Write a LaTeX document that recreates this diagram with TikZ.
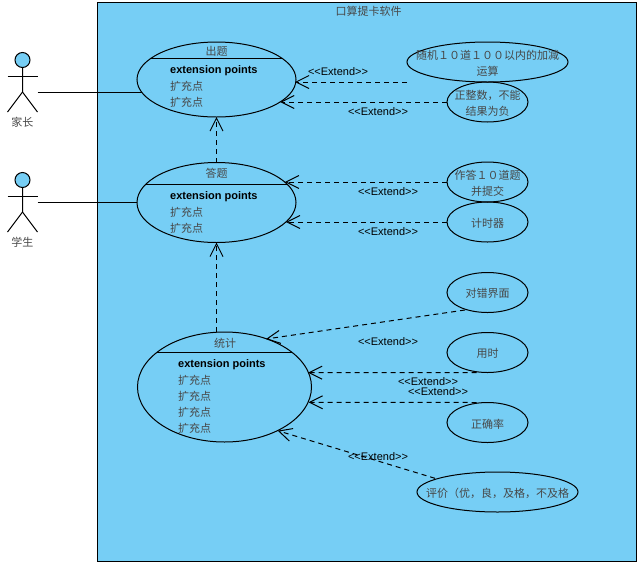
\documentclass[tikz,border=0pt]{standalone}
\usepackage{xcolor}
\usepackage{fontspec}
\setmainfont{Liberation Sans}
\newfontfamily\cjk{Noto Sans CJK SC}
\usepackage{tikz}
\usetikzlibrary{positioning,arrows.meta,shapes.geometric}
\definecolor{sysblue}{RGB}{118,206,245}
\colorlet{cjkgrey}{black!72}

\newcommand{\umlactor}[2]{
  \node[actorbox] (#1) at (#2) {};
  \draw[plainline, fill=sysblue] (#1.north) ++(0,8) circle (7.5);
  \draw[plainline] (#1.north) ++(0,15.5) -- (#1.center) -- ++(0,10) -- (#1.south west);
  \draw[plainline] (#1.center) ++(0,10) -- (#1.south east);
  \draw[plainline] (#1.west) ++(0,-6) -- ([yshift=6pt]#1.east);
}

\begin{document}
\begin{tikzpicture}[
    x=1pt, y=-1pt,
    node distance=20pt and 20pt,
    plainline/.style={line width=1pt},
    system/.style={draw, line width=1pt, fill=sysblue, minimum width=539pt, minimum height=558.5pt, inner sep=0pt},
    actorbox/.style={minimum width=30pt, minimum height=60pt, inner sep=0pt, outer sep=0pt},
    usecase/.style={draw, ellipse, line width=1pt, inner sep=0pt, outer sep=0pt},
    bigcase/.style={usecase, minimum width=159pt, minimum height=75pt},
    smallcase/.style={usecase, minimum width=81pt, minimum height=40pt},
    widecase/.style={usecase, minimum width=161pt, minimum height=40pt},
    casetext/.style={font=\fontsize{11pt}{16pt}\selectfont\cjk, text=cjkgrey, align=center, inner sep=0pt},
    inside/.style={casetext, yshift=-1.3pt},
    pointtext/.style={casetext, anchor=west},
    extpoints/.style={font=\fontsize{11pt}{13pt}\selectfont\bfseries, anchor=west, inner sep=0pt},
    extlabel/.style={font=\fontsize{11pt}{12pt}\selectfont, inner sep=0pt},
    extend/.style={-{Straight Barb[length=13pt,width=13pt]}, line width=1pt, dash pattern=on 5pt off 4pt},
]
\useasboundingbox (0,0) rectangle (641,566);
\node[system] (sys) at (367,281.75) {};
\node[casetext] (systitle) at (368.5,11) {口算提卡软件};

% actors
\umlactor{jz}{22.5,82}
\umlactor{xs}{22.5,202}
\node[casetext, below=5pt of jz] (jzlabel) {家长};
\node[casetext, below=5pt of xs] (xslabel) {学生};

% main use cases
\node[bigcase] (cq) at (216.5,79.5) {};
\node[bigcase, minimum height=80pt] (dt) at (216.5,202.5) {};
\node[bigcase, minimum width=174pt, minimum height=110pt] (tj) at (224.5,387) {};
\draw[plainline] ([shift={(-65.9,-21)}]cq.center) -- ([shift={(65.9,-21)}]cq.center);
\draw[plainline] ([shift={(-70.5,-18.5)}]dt.center) -- ([shift={(70.5,-18.5)}]dt.center);
\draw[plainline] ([shift={(-67.1,-35)}]tj.center) -- ([shift={(67.1,-35)}]tj.center);

\node[casetext] (cqtitle) at (216.5,51) {出题};
\node[extpoints] (cqext) at (170,71) {extension points};
\node[pointtext] (cqp1) at (170,86) {扩充点};
\node[pointtext] (cqp2) at (170,102) {扩充点};

\node[casetext] (dttitle) at (216.5,173.5) {答题};
\node[extpoints] (dtext) at (170,197) {extension points};
\node[pointtext] (dtp1) at (170,212) {扩充点};
\node[pointtext] (dtp2) at (170,228) {扩充点};

\node[casetext] (tjtitle) at (225,343) {统计};
\node[extpoints] (tjext) at (178,365) {extension points};
\node[pointtext] (tjp1) at (178,380) {扩充点};
\node[pointtext] (tjp2) at (178,396) {扩充点};
\node[pointtext] (tjp3) at (178,412) {扩充点};
\node[pointtext] (tjp4) at (178,428) {扩充点};

% extending use cases
\node[widecase, label={[inside]center:{随机１０道１００以内的加减\\运算}}] (sj) at (487.5,62) {};
\node[smallcase, below=0pt of sj, label={[inside]center:{正整数，不能\\结果为负}}] (zzs) {};
\node[smallcase, label={[inside]center:{作答１０道题\\并提交}}] (zd) at (487.5,182) {};
\node[smallcase, below=0pt of zd, label={[inside]center:{计时器}}] (js) {};
\node[smallcase, label={[inside]center:{对错界面}}] (dc) at (487.5,292.5) {};
\node[smallcase, below=20pt of dc, label={[inside]center:{用时}}] (ys) {};
\node[smallcase, below=30pt of ys, label={[inside]center:{正确率}}] (zq) {};
\node[widecase, label={[inside]center:{评价（优，良，及格，不及格}}] (pj) at (497.5,492) {};

% connectors
\draw[plainline] ([yshift=-10pt]jz.east) -- ([shift={(-75,12.5)}]cq.center);
\draw[plainline] (xs.east) -- (xs.east -| dt.west);

\draw[extend] (sj.west |- sj.south) -- ([shift={(78.5,2.5)}]cq.center);
\draw[extend] (zzs.west) -- ([shift={(63.6,22.5)}]cq.center);
\draw[extend] (dt.north) -- (cq.south);
\draw[extend] (tj.north -| dt.south) -- (dt.south);
\draw[extend] (zd.west) -- ([shift={(68.3,-20.5)}]dt.center);
\draw[extend] (js.west) -- ([shift={(69.4,19.5)}]dt.center);
\draw[extend] ([shift={(-22.5,17.5)}]dc.center) -- ([shift={(41.5,-48)}]tj.center);
\draw[extend] ([shift={(-10.8,20)}]ys.center) -- ([shift={(83.5,-14.3)}]tj.center);
\draw[extend] ([shift={(-10.8,-20)}]zq.center) -- ([shift={(84,15.3)}]tj.center);
\draw[extend] ([shift={(-62.5,-13.7)}]pj.center) -- ([shift={(53.2,43.7)}]tj.center);

% stereotype labels
\node[extlabel] (ext1) at (338,71.5) {<{}<Extend>{}>};
\node[extlabel] (ext2) at (378,111.5) {<{}<Extend>{}>};
\node[extlabel] (ext3) at (388,191.5) {<{}<Extend>{}>};
\node[extlabel] (ext4) at (388,231.5) {<{}<Extend>{}>};
\node[extlabel] (ext5) at (388,341.5) {<{}<Extend>{}>};
\node[extlabel] (ext6) at (428,381.5) {<{}<Extend>{}>};
\node[extlabel] (ext7) at (438,391.5) {<{}<Extend>{}>};
\node[extlabel] (ext8) at (378,456.5) {<{}<Extend>{}>};
\end{tikzpicture}
\end{document}
